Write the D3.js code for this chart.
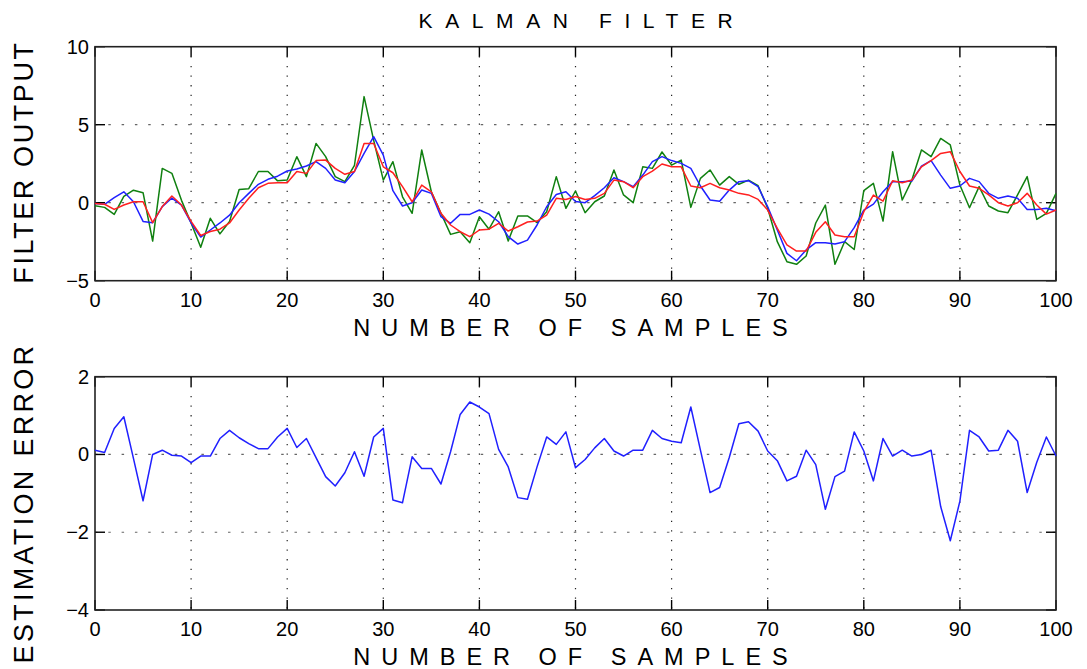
<!DOCTYPE html>
<html>
<head>
<meta charset="utf-8">
<script src="https://cdn.jsdelivr.net/npm/d3@7"></script>
<style>
	body { margin: 0; background: #fff; }
	svg text { font-family: "Liberation Sans", Arial, sans-serif; fill: #000; }
</style>
</head>
<body>
<svg id="chart" width="1087" height="669"></svg>
<script>
//sample index 0..100
var samples = d3.range(0, 101);

//measured signal (green)
var measured = [-0.2, -0.3, -0.75, 0.4, 0.8, 0.64, -2.46, 2.2, 1.88, 0.15,
	-1.3, -2.86, -1.0, -2.0, -1.2, 0.85, 0.9, 2.0, 2.0, 1.4,
	1.45, 2.95, 1.67, 3.8, 2.95, 1.67, 1.35, 2.4, 6.8, 4.0,
	1.45, 2.63, 0.38, -0.68, 3.38, 0.7, -0.68, -2.03, -1.86, -2.56,
	-0.9, -1.7, -0.58, -2.46, -0.85, -0.85, -1.28, -0.58, 1.67, -0.36,
	0.75, -0.64, 0.06, 0.43, 2.1, 0.5, 0, 2.3, 2.2, 3.25,
	2.41, 2.73, -0.3, 1.56, 2.1, 1.13, 1.67, 1.18, 1.45, 1.09,
	-0.36, -2.5, -3.78, -3.95, -3.42, -1.3, -0.15, -3.95, -2.5, -3.0,
	0.77, 1.24, -1.18, 3.27, 0.17, 1.45, 3.38, 2.95, 4.12, 3.7,
	1.13, -0.32, 1.03, -0.21, -0.53, -0.64, 0.5, 1.67, -1.07, -0.68, 0.6];

//true signal (blue)
var signal = [-0.05, -0.1, 0.32, 0.7, 0.06, -1.2, -1.28, -0.25, 0.3, -0.15,
	-1.3, -2.2, -1.75, -1.3, -0.8, 0, 0.6, 1.18, 1.5, 1.7,
	2.03, 2.16, 2.35, 2.63, 2.2, 1.45, 1.28, 2.0, 3.16, 4.23,
	3.05, 0.77, -0.21, 0, 0.81, 0.6, -0.9, -1.32, -0.75, -0.75,
	-0.47, -0.73, -1.22, -2.18, -2.65, -2.4, -1.43, -0.26, 0.53, 0.7,
	0.08, 0, 0.45, 0.96, 1.6, 1.35, 1.03, 1.77, 2.63, 2.95,
	2.7, 2.52, 2.2, 1.07, 0.17, 0.1, 0.81, 1.35, 1.41, 1.03,
	-0.26, -1.75, -3.25, -3.72, -3.03, -2.56, -2.56, -2.65, -2.5, -1.6,
	-0.47, -0.09, 0.7, 1.35, 1.35, 1.39, 2.35, 2.7, 1.77, 0.92,
	1.07, 1.56, 1.35, 0.6, 0.28, 0.43, 0.28, -0.43, -0.43, -0.36, -0.51];

//kalman estimate (red)
var estimate = [-0.05, -0.1, -0.43, -0.15, 0.06, 0.06, -1.28, -0.25, 0.43, -0.15,
	-1.2, -2.1, -1.85, -1.7, -1.3, -0.47, 0.28, 0.96, 1.24, 1.28,
	1.28, 2.0, 1.88, 2.7, 2.73, 2.2, 1.82, 2.0, 3.8, 3.8,
	2.3, 1.92, 1.03, 0.06, 1.13, 0.7, -0.68, -1.43, -1.86, -2.18,
	-1.75, -1.7, -1.32, -1.82, -1.54, -1.24, -1.18, -0.79, 0.28, 0.21,
	0.4, 0.21, 0.28, 0.6, 1.45, 1.35, 0.96, 1.67, 2.03, 2.48,
	2.3, 2.3, 1.07, 0.96, 1.24, 0.96, 0.81, 0.6, 0.5, 0.21,
	-0.47, -1.65, -2.71, -3.1, -3.1, -1.9, -1.22, -2.07, -2.18, -2.18,
	-0.58, 0.49, 0.1, 1.41, 1.28, 1.45, 2.3, 2.7, 3.16, 3.27,
	2.0, 1.07, 0.92, 0.5, 0, -0.21, 0, 0.6, -0.15, -0.73, -0.47];

//estimation error (blue, lower plot)
var estError = [0.11, 0.05, 0.67, 0.97, -0.1, -1.19, 0.0, 0.11, -0.02, -0.04,
	-0.21, -0.04, -0.04, 0.41, 0.62, 0.43, 0.28, 0.15, 0.15, 0.45,
	0.67, 0.18, 0.41, -0.08, -0.57, -0.81, -0.47, 0.07, -0.56, 0.45,
	0.67, -1.17, -1.24, -0.06, -0.36, -0.36, -0.76, 0.07, 1.03, 1.35,
	1.22, 1.05, 0.13, -0.32, -1.11, -1.15, -0.32, 0.45, 0.26, 0.58,
	-0.34, -0.13, 0.17, 0.41, 0.09, -0.04, 0.11, 0.11, 0.62, 0.41,
	0.34, 0.3, 1.22, 0.11, -0.98, -0.85, -0.08, 0.79, 0.84, 0.6,
	0.09, -0.16, -0.68, -0.56, 0.11, -0.26, -1.41, -0.57, -0.43, 0.58,
	0.09, -0.68, 0.41, -0.04, 0.11, -0.04, 0, 0.11, -1.34, -2.22,
	-1.2, 0.62, 0.45, 0.09, 0.11, 0.62, 0.34, -0.98, -0.2, 0.45, -0.04];

var xTicks = [0, 10, 20, 30, 40, 50, 60, 70, 80, 90, 100];
var yTicksTop = [-5, 0, 5, 10];
var yTicksBot = [-4, -2, 0, 2];

var svg = d3.select("#chart");

var x = d3.scaleLinear().domain([0, 100]).range([95, 1056]);
var yTop = d3.scaleLinear().domain([-5, 10]).range([280.7, 46.7]);
var yBot = d3.scaleLinear().domain([-4, 2]).range([610, 376.7]);

//draws one matlab style axes box with grid and inner ticks
function drawPanel(y, yTicks, yLabel, yLabelCenter, yLabelSpacing) {
	var g = svg.append("g");
	var x0 = x.range()[0], x1 = x.range()[1];
	var yb = y.range()[0], yt = y.range()[1];

	//vertical grid (dotted)
	g.selectAll(".vgrid").data(xTicks.slice(1, -1)).enter()
		.append("line")
		.attr("x1", function (d) { return x(d); })
		.attr("x2", function (d) { return x(d); })
		.attr("y1", yt).attr("y2", yb)
		.attr("stroke", "#222")
		.attr("stroke-width", 1.2)
		.attr("stroke-dasharray", "1.3,8.3");

	//horizontal grid
	g.selectAll(".hgrid").data(yTicks.slice(1, -1)).enter()
		.append("line")
		.attr("x1", x0).attr("x2", x1)
		.attr("y1", function (d) { return y(d); })
		.attr("y2", function (d) { return y(d); })
		.attr("stroke", "#666")
		.attr("stroke-width", 1.2)
		.attr("stroke-dasharray", "2.5,10.8");

	//ticks pointing inwards on all four sides
	var tl = 10;
	xTicks.forEach(function (d) {
		g.append("line").attr("x1", x(d)).attr("x2", x(d)).attr("y1", yb).attr("y2", yb - tl)
			.attr("stroke", "#000").attr("stroke-width", 1.4);
		g.append("line").attr("x1", x(d)).attr("x2", x(d)).attr("y1", yt).attr("y2", yt + tl)
			.attr("stroke", "#000").attr("stroke-width", 1.4);
	});
	yTicks.forEach(function (d) {
		g.append("line").attr("x1", x0).attr("x2", x0 + tl).attr("y1", y(d)).attr("y2", y(d))
			.attr("stroke", "#000").attr("stroke-width", 1.4);
		g.append("line").attr("x1", x1).attr("x2", x1 - tl).attr("y1", y(d)).attr("y2", y(d))
			.attr("stroke", "#000").attr("stroke-width", 1.4);
	});

	//box
	g.append("rect")
		.attr("x", x0).attr("y", yt)
		.attr("width", x1 - x0).attr("height", yb - yt)
		.attr("fill", "none")
		.attr("stroke", "#222")
		.attr("stroke-width", 1.6);

	//tick labels
	g.selectAll(".xt").data(xTicks).enter()
		.append("text")
		.attr("x", function (d) { return x(d); })
		.attr("y", yb + 26)
		.attr("text-anchor", "middle")
		.attr("font-size", 20)
		.text(function (d) { return d; });

	g.selectAll(".yt").data(yTicks).enter()
		.append("text")
		.attr("x", x0 - 6)
		.attr("y", function (d) { return y(d) + 7; })
		.attr("text-anchor", "end")
		.attr("font-size", 20)
		.text(function (d) { return d < 0 ? "\u2212" + Math.abs(d) : d; });

	//x label
	g.append("text")
		.attr("x", 576)
		.attr("y", yb + 55)
		.attr("text-anchor", "middle")
		.attr("font-size", 23.5)
		.attr("letter-spacing", 11)
		.text("NUMBER OF SAMPLES");

	//y label, baseline on the right side
	g.append("text")
		.attr("transform", "translate(33," + yLabelCenter + ") rotate(-90)")
		.attr("text-anchor", "middle")
		.attr("font-size", 27)
		.attr("letter-spacing", yLabelSpacing)
		.text(yLabel);
	return g;
}

function drawLine(data, y, color) {
	var line = d3.line()
		.x(function (d, i) { return x(samples[i]); })
		.y(function (d) { return y(d); });
	svg.append("path")
		.datum(data)
		.attr("fill", "none")
		.attr("stroke", color)
		.attr("stroke-width", 1.5)
		.attr("stroke-linejoin", "round")
		.attr("d", line);
}

drawPanel(yTop, yTicksTop, "FILTER OUTPUT", 162, 2.6);
drawLine(measured, yTop, "#108010");
drawLine(signal, yTop, "#2020ff");
drawLine(estimate, yTop, "#ff2020");

drawPanel(yBot, yTicksBot, "ESTIMATION ERROR", 503, 3.3);
drawLine(estError, yBot, "#2020ff");

//title
svg.append("text")
	.attr("x", 582)
	.attr("y", 28)
	.attr("text-anchor", "middle")
	.attr("font-size", 21)
	.attr("letter-spacing", 12.6)
	.text("KALMAN FILTER");
</script>
</body>
</html>
